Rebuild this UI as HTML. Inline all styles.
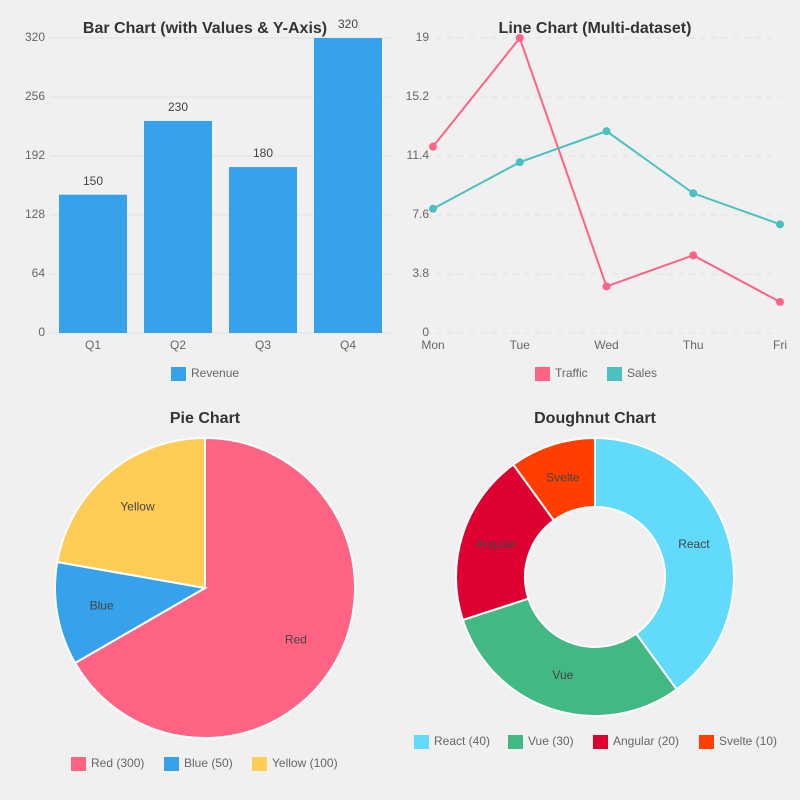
<!DOCTYPE html>
<html><head><meta charset="utf-8"><style>
body{margin:0;background:#f0f0f0;font-family:"Liberation Sans",sans-serif}
svg{display:block}
</style></head><body>
<svg id="s" width="800" height="800" xmlns="http://www.w3.org/2000/svg"></svg>
<script>
const barCats=["Q1","Q2","Q3","Q4"];
const barVals=[150,230,180,320];
const barTicks=[0,64,128,192,256,320];
const lineCats=["Mon","Tue","Wed","Thu","Fri"];
const traffic=[12,19,3,5,2];
const sales=[8,11,13,9,7];
const lineTicks=[0,3.8,7.6,11.4,15.2,19];
const pieLabels=["Red","Blue","Yellow"];
const pieVals=[300,50,100];
const doLabels=["React","Vue","Angular","Svelte"];
const doVals=[40,30,20,10];

const S=document.getElementById('s');const NS="http://www.w3.org/2000/svg";
function el(t,a,txt,p){const e=document.createElementNS(NS,t);for(const k in a)e.setAttribute(k,a[k]);if(txt!=null)e.textContent=txt;(p||S).appendChild(e);return e;}
function txt(x,y,s,opt){return el('text',Object.assign({x:x,y:y,'font-size':12,fill:'#666','text-anchor':'middle','dominant-baseline':'middle'},opt||{}),s);}

let t;
t=txt(205,29,"Bar Chart (with Values & Y-Axis)",{'font-size':16,'font-weight':'bold',fill:'#333'});

t=txt(595,29,"Line Chart (Multi-dataset)",{'font-size':16,'font-weight':'bold',fill:'#333'});

t=txt(205,419,"Pie Chart",{'font-size':16,'font-weight':'bold',fill:'#333'});

t=txt(595,419,"Doughnut Chart",{'font-size':16,'font-weight':'bold',fill:'#333'});


// Bar chart
const bx0=50.5,bx1=390.5,by0=333,by1=38,bmax=320;
const by=v=>by0-(by0-by1)*v/bmax;
const band=(bx1-bx0)/barCats.length;
barTicks.forEach(v=>{
  const g=el('line',{x1:bx0,x2:bx1,y1:by(v),y2:by(v),stroke:'#e2e2e2'});
  
  const l=txt(45,by(v),String(v),{'text-anchor':'end'});
  
});
barCats.forEach((c,i)=>{
  const cx=bx0+band*(i+0.5),w=68;
  const r=el('rect',{x:cx-w/2,y:by(barVals[i]),width:w,height:by0-by(barVals[i]),fill:'#36a2eb'});
  
  const v=txt(cx,by(barVals[i])-13,String(barVals[i]),{fill:'#444'});
  
  const l=txt(cx,346,c);
  
});
let lr=el('rect',{x:171,y:367,width:15,height:14,fill:'#36a2eb'});

let lt=txt(191,374,"Revenue",{'text-anchor':'start'});


// Line chart
const lx0=433,lx1=780,ly0=333,ly1=38,lmax=19;
const ly=v=>ly0-(ly0-ly1)*v/lmax;
const lx=i=>lx0+(lx1-lx0)*i/(lineCats.length-1);
lineTicks.forEach(v=>{
  const g=el('line',{x1:lx0-8,x2:lx1,y1:ly(v),y2:ly(v),stroke:'#e2e2e2','stroke-dasharray':'6,5'});
  
  const l=txt(429,ly(v),String(v),{'text-anchor':'end'});
  
});
lineCats.forEach((c,i)=>{
  const l=txt(lx(i),346,c);
  
});
function series(vals,color,name){
  const p=el('polyline',{points:vals.map((v,i)=>lx(i)+','+ly(v)).join(' '),fill:'none',stroke:color,'stroke-width':2});
  
  vals.forEach((v,i)=>{
    const c=el('circle',{cx:lx(i),cy:ly(v),r:4,fill:color});
    
  });
}
series(traffic,'#ff6384','traffic');
series(sales,'#4bc0c0','sales');
lr=el('rect',{x:535,y:367,width:15,height:14,fill:'#ff6384'});

lt=txt(555,374,"Traffic",{'text-anchor':'start'});

lr=el('rect',{x:607,y:367,width:15,height:14,fill:'#4bc0c0'});

lt=txt(627,374,"Sales",{'text-anchor':'start'});


function arcPath(cx,cy,ro,ri,a0,a1){
  const P=(r,a)=>[cx+r*Math.cos(a),cy+r*Math.sin(a)];
  const lg=(a1-a0)>Math.PI?1:0;
  const [x0,y0]=P(ro,a0),[x1,y1]=P(ro,a1);
  if(ri<=0)return `M${cx},${cy}L${x0},${y0}A${ro},${ro} 0 ${lg} 1 ${x1},${y1}Z`;
  const [x2,y2]=P(ri,a1),[x3,y3]=P(ri,a0);
  return `M${x0},${y0}A${ro},${ro} 0 ${lg} 1 ${x1},${y1}L${x2},${y2}A${ri},${ri} 0 ${lg} 0 ${x3},${y3}Z`;
}
function ring(cx,cy,ro,ri,lr,vals,labels,colors,prefix){
  const tot=vals.reduce((a,b)=>a+b,0);let a=-Math.PI/2;
  vals.forEach((v,i)=>{
    const a1=a+2*Math.PI*v/tot;
    const p=el('path',{d:arcPath(cx,cy,ro,ri,a,a1),fill:colors[i],stroke:'#fff','stroke-width':2});
    
    const m=(a+a1)/2;
    const l=txt(cx+lr*Math.cos(m),cy+lr*Math.sin(m),labels[i],{fill:'#444'});
    
    a=a1;
  });
}
const pieColors=['#ff6384','#36a2eb','#ffcd56'];
ring(205,588,150,0,105,pieVals,pieLabels,pieColors,'pie');
const doColors=['#61dafb','#42b883','#dd0031','#ff3e00'];
ring(595,577,139,70,104,doVals,doLabels,doColors,'doughnut');

const pieLx=[71,164,252];
pieLabels.forEach((l,i)=>{
  const r=el('rect',{x:pieLx[i],y:757,width:15,height:14,fill:pieColors[i]});
  
  const tt=txt(pieLx[i]+20,764,l+' ('+pieVals[i]+')',{'text-anchor':'start'});
  
});
const doLx=[414,508,593,699];
doLabels.forEach((l,i)=>{
  const r=el('rect',{x:doLx[i],y:735,width:15,height:14,fill:doColors[i]});
  
  const tt=txt(doLx[i]+20,742,l+' ('+doVals[i]+')',{'text-anchor':'start'});
  
});
</script>
</body></html>
